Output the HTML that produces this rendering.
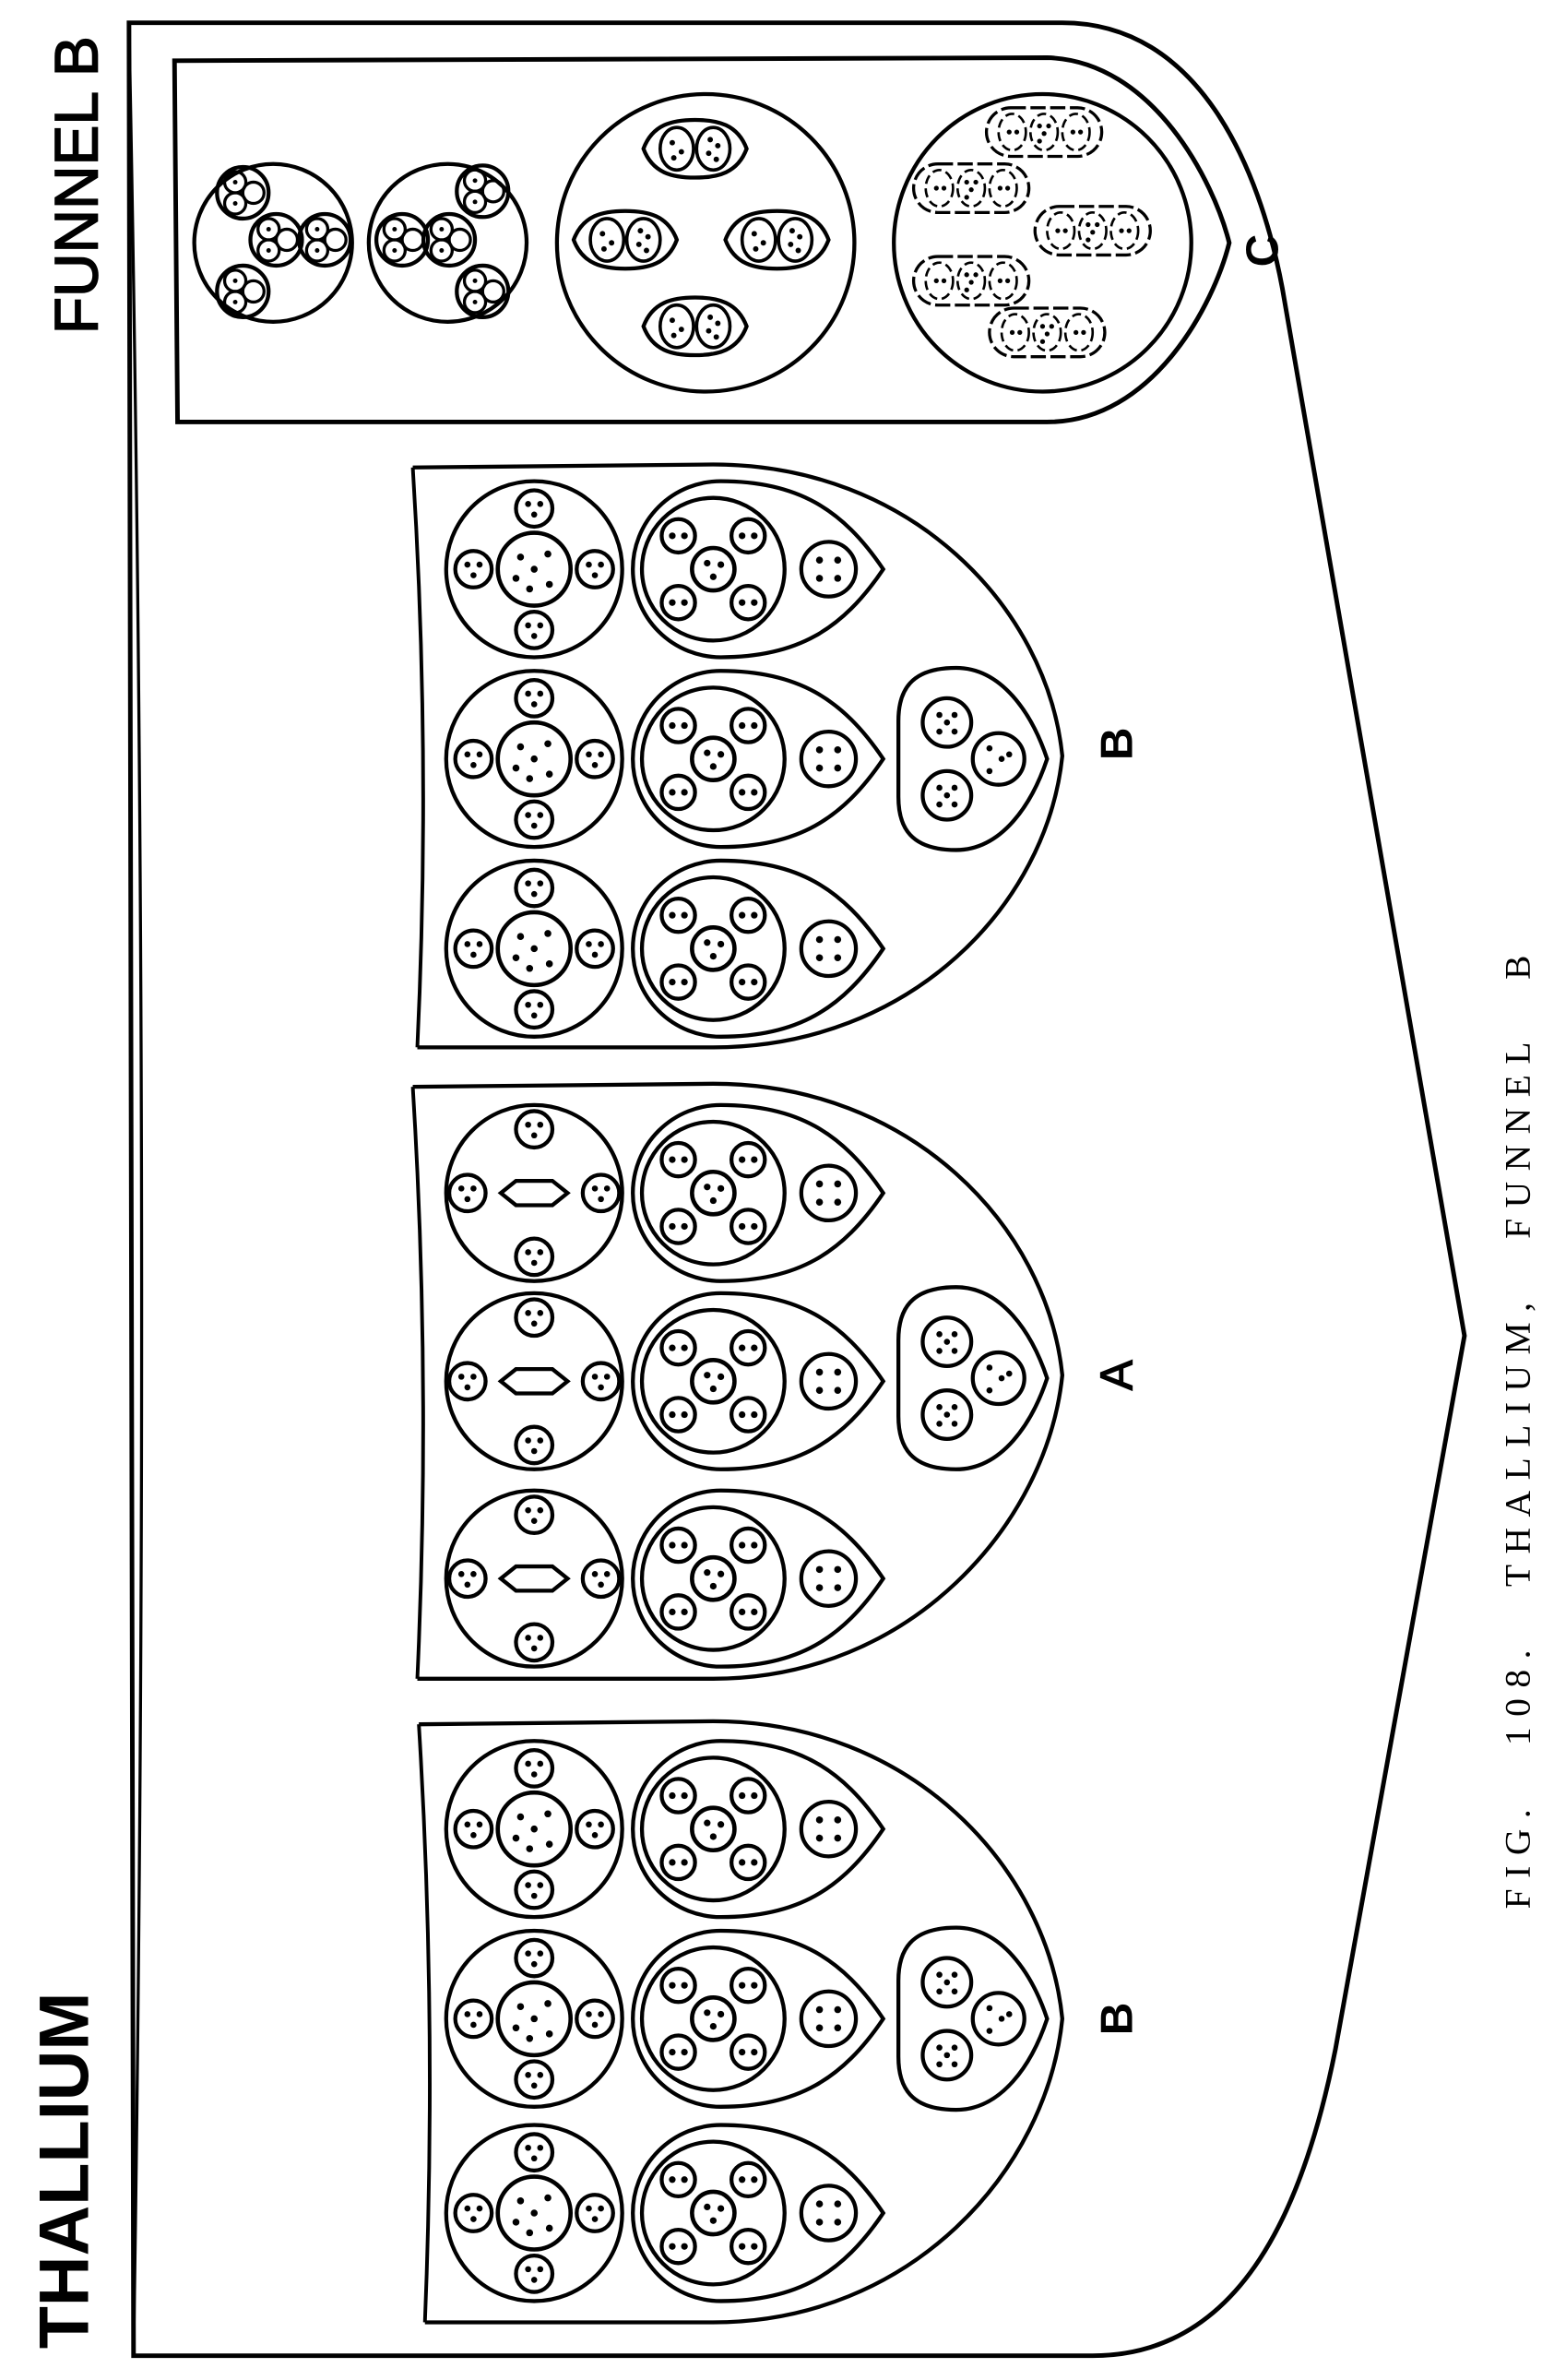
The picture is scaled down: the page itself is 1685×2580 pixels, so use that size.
<!DOCTYPE html>
<html><head><meta charset="utf-8"><style>
html,body{margin:0;padding:0;background:#fff;}
svg{display:block;}
</style></head><body>
<svg width="1685" height="2580" viewBox="0 0 1024 1568" preserveAspectRatio="none" xmlns="http://www.w3.org/2000/svg">
<defs>
<g id="s3"><circle r="12" fill="none" stroke="#000" stroke-width="2.6"/><circle cx="-4" cy="-3" r="2"/><circle cx="4" cy="-3" r="2"/><circle cx="0" cy="4" r="2"/></g>
<g id="s2"><circle r="11" fill="none" stroke="#000" stroke-width="2.6"/><circle cx="-4" cy="0" r="2.2"/><circle cx="4" cy="0" r="2.2"/></g>
<g id="s4"><circle r="18" fill="none" stroke="#000" stroke-width="2.6"/><circle cx="-6" cy="-6" r="2.3"/><circle cx="6" cy="-6" r="2.3"/><circle cx="-6" cy="6" r="2.3"/><circle cx="6" cy="6" r="2.3"/></g>
<g id="big"><circle r="58" fill="none" stroke="#000" stroke-width="2.6"/>
<circle r="24" fill="none" stroke="#000" stroke-width="2.8"/>
<circle cx="-9" cy="-8" r="2.3"/><circle cx="9" cy="-10" r="2.3"/><circle cx="0" cy="0" r="2.3"/><circle cx="-12" cy="6" r="2.3"/><circle cx="10" cy="10" r="2.3"/><circle cx="-3" cy="13" r="2.3"/>
<use href="#s3" x="-40" y="0"/><use href="#s3" x="40" y="0"/><use href="#s3" x="0" y="-40"/><use href="#s3" x="0" y="40"/></g>
<g id="bigA"><circle r="58" fill="none" stroke="#000" stroke-width="2.6"/>
<path d="M-22,0 L-12,-8 L12,-8 L22,0 L12,8 L-12,8 Z" fill="none" stroke="#000" stroke-width="2.6"/>
<use href="#s3" x="-44" y="0"/><use href="#s3" x="44" y="0"/><use href="#s3" x="0" y="-42"/><use href="#s3" x="0" y="42"/></g>
<g id="tear"><path d="M112,0 C85,-40 55,-58 5,-58 A58,58 0 0 0 5,58 C55,58 85,40 112,0 Z" fill="none" stroke="#000" stroke-width="2.6"/>
<circle r="47" fill="none" stroke="#000" stroke-width="2.6"/>
<circle r="14" fill="none" stroke="#000" stroke-width="2.8"/><circle cx="-4" cy="-4" r="2.2"/><circle cx="5" cy="-3" r="2.2"/><circle cx="0" cy="5" r="2.2"/>
<use href="#s2" x="-23" y="-22"/><use href="#s2" x="23" y="-22"/><use href="#s2" x="-23" y="22"/><use href="#s2" x="23" y="22"/>
<use href="#s4" x="76" y="0"/></g>
<g id="tri"><path d="M50,0 C40,-30 20,-60 -10,-60 C-40,-60 -48,-45 -48,-25 L-48,25 C-48,45 -40,60 -10,60 C20,60 40,30 50,0 Z" fill="none" stroke="#000" stroke-width="2.6"/>
<circle cx="-16" cy="-24" r="16" fill="none" stroke="#000" stroke-width="2.6"/><circle cx="-21" cy="-29" r="2"/><circle cx="-11" cy="-29" r="2"/><circle cx="-16" cy="-24" r="2"/><circle cx="-21" cy="-18" r="2"/><circle cx="-11" cy="-18" r="2"/>
<circle cx="-16" cy="24" r="16" fill="none" stroke="#000" stroke-width="2.6"/><circle cx="-21" cy="19" r="2"/><circle cx="-11" cy="19" r="2"/><circle cx="-16" cy="24" r="2"/><circle cx="-21" cy="30" r="2"/><circle cx="-11" cy="30" r="2"/>
<circle cx="18" cy="0" r="17" fill="none" stroke="#000" stroke-width="2.6"/><circle cx="12" cy="-7" r="2"/><circle cx="20" cy="0" r="2"/><circle cx="12" cy="8" r="2"/><circle cx="25" cy="-3" r="2"/></g>
<g id="clu"><circle r="17" fill="none" stroke="#000" stroke-width="2.6"/><circle cx="-5" cy="-7" r="7" fill="none" stroke="#000" stroke-width="2"/><circle cx="7" cy="0" r="7" fill="none" stroke="#000" stroke-width="2"/><circle cx="-5" cy="7" r="7" fill="none" stroke="#000" stroke-width="2"/><circle cx="-5" cy="-7" r="1.5"/><circle cx="-5" cy="7" r="1.5"/></g>
<g id="lens2"><path d="M-34,0 C-28,-16 -15,-19 0,-19 C15,-19 28,-16 34,0 C28,16 15,19 0,19 C-15,19 -28,16 -34,0 Z" fill="none" stroke="#000" stroke-width="2.6"/>
<ellipse cx="-12" rx="11" ry="14" fill="none" stroke="#000" stroke-width="2.2"/><ellipse cx="12" rx="11" ry="14" fill="none" stroke="#000" stroke-width="2.2"/>
<circle cx="-15" cy="-4" r="1.8"/><circle cx="-9" cy="2" r="1.8"/><circle cx="-14" cy="6" r="1.8"/><circle cx="10" cy="-6" r="1.8"/><circle cx="15" cy="-2" r="1.8"/><circle cx="9" cy="3" r="1.8"/><circle cx="14" cy="7" r="1.8"/></g>
<g id="lens3"><rect x="-38" y="-16" width="76" height="32" rx="16" fill="none" stroke="#000" stroke-width="2" stroke-dasharray="10 3"/>
<ellipse cx="-21" rx="9" ry="12" fill="none" stroke="#000" stroke-width="1.6" stroke-dasharray="6 3"/><ellipse cx="0" rx="9" ry="12" fill="none" stroke="#000" stroke-width="1.6" stroke-dasharray="6 3"/><ellipse cx="21" rx="9" ry="12" fill="none" stroke="#000" stroke-width="1.6" stroke-dasharray="6 3"/>
<circle cx="-23" r="1.6"/><circle cx="-18" r="1.6"/><circle cx="-3" cy="-4" r="1.6"/><circle cx="3" cy="-4" r="1.6"/><circle cx="0" cy="1" r="1.6"/><circle cx="-3" cy="6" r="1.6"/><circle cx="19" r="1.6"/><circle cx="24" r="1.6"/></g>
</defs>

<path d="M85,15 L700,15 C790,15 830,110 845,190 L965,880 L880,1350 C860,1450 820,1552 720,1552 L88,1552 Z" fill="none" stroke="#000" stroke-width="3"/>
<path d="M85,15 Q100,780 88,1552" fill="none" stroke="#000" stroke-width="2"/>

<path d="M115,40 L690,38 C760,40 800,120 810,160 C800,200 760,278 690,278 L117,278 Z" fill="none" stroke="#000" stroke-width="3"/>
<circle cx="180" cy="160" r="52" fill="none" stroke="#000" stroke-width="2.6"/>
<use href="#clu" x="160" y="127"/><use href="#clu" x="182" y="158"/><use href="#clu" x="214" y="158"/><use href="#clu" x="160" y="192"/>
<circle cx="295" cy="160" r="52" fill="none" stroke="#000" stroke-width="2.6"/>
<use href="#clu" x="265" y="158"/><use href="#clu" x="296" y="158"/><use href="#clu" x="318" y="126"/><use href="#clu" x="318" y="192"/>
<circle cx="465" cy="160" r="98" fill="none" stroke="#000" stroke-width="2.6"/>
<use href="#lens2" x="458" y="98"/><use href="#lens2" x="412" y="158"/><use href="#lens2" x="512" y="158"/><use href="#lens2" x="458" y="215"/>
<circle cx="687" cy="160" r="98" fill="none" stroke="#000" stroke-width="2.6"/>
<use href="#lens3" x="688" y="87"/><use href="#lens3" x="640" y="124"/><use href="#lens3" x="720" y="152"/><use href="#lens3" x="640" y="185"/><use href="#lens3" x="690" y="219"/>

<g>
<path d="M272,308 L470,306 C600,306 690,400 700,498 C690,596 600,690 470,690 L275,690" fill="none" stroke="#000" stroke-width="2.6"/>
<path d="M272,308 Q284,499 275,690" fill="none" stroke="#000" stroke-width="2.4"/>
<use href="#big" x="352" y="375"/><use href="#big" x="352" y="500"/><use href="#big" x="352" y="625"/>
<use href="#tear" x="470" y="375"/><use href="#tear" x="470" y="500"/><use href="#tear" x="470" y="625"/>
<use href="#tri" x="640" y="500"/>
</g>
<g>
<path d="M272,716 L470,714 C600,714 690,808 700,906 C690,1004 600,1106 470,1106 L275,1106" fill="none" stroke="#000" stroke-width="2.6"/>
<path d="M272,716 Q284,910 275,1106" fill="none" stroke="#000" stroke-width="2.4"/>
<use href="#bigA" x="352" y="786"/><use href="#bigA" x="352" y="910"/><use href="#bigA" x="352" y="1040"/>
<use href="#tear" x="470" y="786"/><use href="#tear" x="470" y="910"/><use href="#tear" x="470" y="1040"/>
<use href="#tri" x="640" y="908"/>
</g>
<g>
<path d="M276,1136 L470,1134 C600,1134 690,1230 700,1330 C690,1430 600,1530 470,1530 L280,1530" fill="none" stroke="#000" stroke-width="2.6"/>
<path d="M276,1136 Q288,1333 280,1530" fill="none" stroke="#000" stroke-width="2.4"/>
<use href="#big" x="352" y="1205"/><use href="#big" x="352" y="1330"/><use href="#big" x="352" y="1458"/>
<use href="#tear" x="470" y="1205"/><use href="#tear" x="470" y="1330"/><use href="#tear" x="470" y="1458"/>
<use href="#tri" x="640" y="1330"/>
</g>

<g font-family="Liberation Sans, sans-serif" font-weight="bold" fill="#000">
<text transform="translate(58,1430) rotate(-90)" font-size="46" text-anchor="middle">THALLIUM</text>
<text transform="translate(64,122) rotate(-90)" font-size="40" text-anchor="middle" font-weight="normal" stroke="#000" stroke-width="1">FUNNEL B</text>
<text transform="translate(746,490) rotate(-90)" font-size="30" text-anchor="middle">B</text>
<text transform="translate(746,906) rotate(-90)" font-size="30" text-anchor="middle" font-weight="normal" stroke="#000" stroke-width="0.8">A</text>
<text transform="translate(746,1330) rotate(-90)" font-size="30" text-anchor="middle">B</text>
<text transform="translate(842,165) rotate(-90)" font-size="30" text-anchor="middle">C</text>
</g>
<text transform="translate(1008,940) rotate(-90)" font-family="Liberation Serif, serif" font-size="24" text-anchor="middle" letter-spacing="7" word-spacing="22">FIG. 108. THALLIUM, FUNNEL B</text>
</svg>
</body></html>
